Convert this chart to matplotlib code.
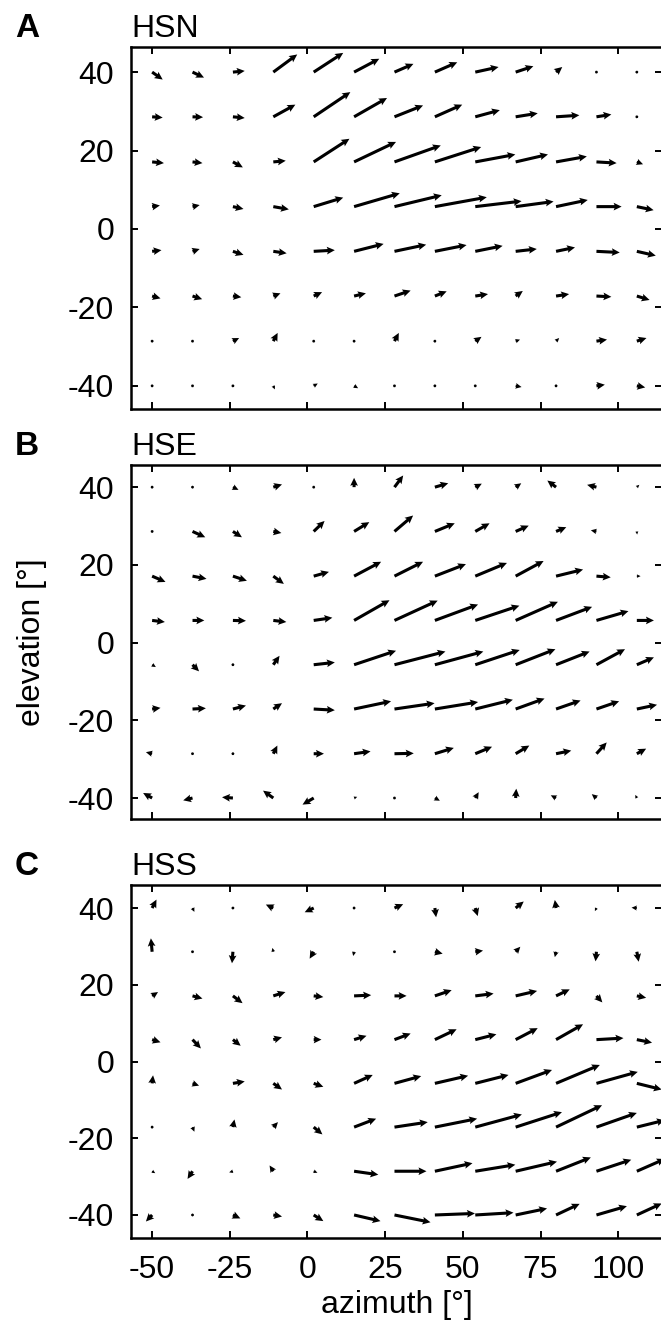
import numpy as np
import matplotlib
matplotlib.use("Agg")
import matplotlib.pyplot as plt

plt.rcParams['font.family'] = ['Liberation Sans', 'DejaVu Sans']
plt.rcParams['axes.unicode_minus'] = False

# grid of the receptive field maps (deg)
azimuth = [-50, -37, -24, -11, 2, 15, 28, 41, 54, 67, 80, 93, 106]
elevation = [40, 28.6, 17.1, 5.7, -5.7, -17.1, -28.6, -40]

# local motion vectors, rows = elevation (top to bottom), cols = azimuth
hsn_u = [
    [3.4, 3.7, 3.8, 7.7, 9.5, 8.1, 6.1, 7.2, 7.5, 5.7, 2.0, 0.3, 0.3],
    [3.4, 3.4, 3.8, 7.1, 11.8, 10.6, 9.2, 8.8, 7.9, 7.1, 7.5, 4.8, 0.3],
    [3.8, 3.2, 3.2, 4.0, 11.5, 13.5, 14.9, 14.9, 12.9, 10.4, 9.9, 6.5, 2.0],
    [2.5, 2.3, 3.4, 5.0, 9.5, 14.7, 15.2, 16.7, 14.9, 12.2, 10.2, 8.1, 5.4],
    [3.0, 2.3, 3.4, 4.3, 6.8, 9.5, 10.2, 10.2, 8.8, 6.8, 6.1, 7.5, 6.1],
    [2.7, 3.1, 2.7, 2.3, 2.7, 3.8, 5.2, 3.8, 4.1, 2.3, 4.2, 4.8, 4.1],
    [0.5, 0.2, 2.0, 1.4, 0.4, 0.2, 1.4, 0.3, 2.0, 1.4, 1.0, 3.4, 3.1],
    [0.3, 0.3, 0.3, 0.5, 1.3, 1.3, 0.3, 0.3, 0.3, 1.9, 0.3, 2.7, 2.7],
]
hsn_v = [
    [-1.9, -1.4, 0.3, 4.5, 4.9, 3.4, 2.1, 2.5, 1.3, 1.5, 1.3, 0.3, -0.2],
    [-0.2, -0.1, -0.3, 3.1, 6.3, 4.8, 2.9, 3.1, 1.7, 0.9, 0.4, 0.6, -0.2],
    [-0.3, -0.3, -1.4, 0.3, 5.9, 5.1, 4.2, 3.8, 1.9, 1.9, 1.4, -0.3, -0.6],
    [0.3, 0.4, -0.6, -0.7, 2.3, 3.4, 2.9, 2.4, 1.4, 1.3, 1.7, 0.0, -0.9],
    [0.3, 0.6, -0.9, -0.5, 0.3, 1.9, 1.7, 1.6, 1.4, 0.6, 1.0, -0.3, -1.1],
    [-0.6, -0.8, -0.3, 0.7, 1.0, 0.7, 1.4, 1.2, 0.5, 1.3, 0.5, -0.2, -1.0],
    [0.3, -0.2, 0.8, 2.1, -0.6, -0.4, 2.1, -0.3, 1.1, 0.4, 0.8, 0.4, 0.8],
    [0.0, 0.0, -0.2, -0.9, 0.6, -0.6, 0.0, 0.0, 0.0, -0.3, 0.0, 0.3, -0.4],
]

hse_u = [
    [0.3, 0.3, 1.8, 2.8, 0.8, 0.0, 2.8, 4.3, 2.1, 1.8, -2.8, -3.0, 0.8],
    [0.3, 4.1, 2.9, 2.6, 3.5, 4.9, 6.0, 6.4, 4.6, 4.2, 3.3, -1.8, 0.1],
    [4.3, 4.5, 4.5, 3.4, 4.9, 8.7, 9.2, 10.0, 10.2, 9.0, 8.7, 4.6, 1.2],
    [4.1, 3.8, 4.2, 4.2, 6.0, 11.4, 13.9, 13.9, 14.2, 13.6, 11.6, 10.3, 5.5],
    [1.2, 2.1, 0.5, 2.0, 6.8, 13.5, 16.4, 15.6, 14.3, 12.8, 10.8, 9.2, 5.5],
    [2.7, 4.3, 4.2, 2.8, 6.8, 11.9, 12.9, 13.9, 12.1, 9.3, 7.9, 7.3, 6.5],
    [-2.0, 0.2, 0.3, 1.3, 3.3, 5.3, 6.2, 6.1, 5.4, 4.4, 4.9, 3.3, 3.0],
    [-2.9, -3.0, -3.5, -3.3, -3.6, 1.0, 0.3, 1.6, 1.1, 0.2, -1.7, -1.5, -0.5],
]
hse_v = [
    [0.0, 0.1, -0.7, 0.7, 0.0, 2.4, 3.0, 1.0, 0.9, 1.0, 1.7, 0.6, 0.6],
    [0.2, -1.5, -1.5, -0.4, 2.7, 2.4, 4.1, 2.1, 2.1, 1.5, 1.1, 0.3, -0.8],
    [-1.5, -0.7, -1.2, -2.0, 1.1, 3.7, 3.7, 3.1, 3.4, 3.9, 1.7, -0.3, 0.0],
    [-0.4, 0.0, -0.1, -0.4, 0.7, 5.2, 5.1, 4.1, 3.8, 4.8, 3.5, 2.4, 0.0],
    [-0.6, -1.7, 0.0, 2.3, 0.6, 3.6, 3.4, 3.4, 3.8, 4.0, 3.4, 4.0, 1.9],
    [0.3, 0.2, 0.9, 1.5, -0.3, 2.0, 1.5, 1.8, 2.4, 2.7, 2.2, 2.0, 1.1],
    [0.4, 0.3, 0.0, 2.1, 0.0, 0.6, 0.1, 1.5, 1.8, 2.1, 0.8, 2.9, 1.3],
    [1.3, -0.6, 0.2, 1.9, -1.7, 0.3, 0.3, -0.7, 1.5, 2.4, 0.7, 1.0, 0.8],
]

hss_u = [
    [1.4, 0.6, 0.3, -2.4, -2.9, 0.2, 2.8, 0.4, 0.8, 2.6, -0.4, -0.5, -1.7],
    [-0.4, 0.8, -0.3, -0.3, -1.3, -0.3, 0.3, 2.5, 2.5, 1.5, -0.4, -0.3, 0.6],
    [1.9, 3.2, 3.1, 3.9, 3.1, 5.5, 3.9, 5.4, 5.9, 6.9, 4.4, 1.9, 3.0],
    [2.7, 2.7, 2.5, 2.8, 2.5, 4.0, 5.2, 7.0, 6.8, 7.1, 8.7, 8.7, 4.9],
    [0.3, 2.1, 3.8, 2.8, 3.1, 6.0, 8.6, 10.7, 10.7, 11.7, 14.1, 13.3, 8.0],
    [0.3, 0.6, 0.5, 1.5, 2.8, 7.1, 10.7, 13.6, 15.0, 14.9, 14.8, 13.0, 9.0],
    [1.0, -1.6, -1.2, -1.2, 1.2, 7.8, 10.3, 12.1, 12.9, 13.3, 11.2, 11.2, 9.0],
    [-2.0, 0.5, 2.4, 2.8, 3.1, 8.5, 11.6, 12.9, 12.3, 10.1, 7.6, 9.8, 8.0],
]
hss_v = [
    [2.2, -1.0, -0.2, 0.9, -1.1, 0.0, 1.0, -2.4, -2.1, 1.7, 2.1, -0.8, 0.1],
    [3.5, 0.0, -3.0, 1.0, -1.8, -1.1, 0.0, -0.5, 0.3, 1.3, -1.4, -2.5, -2.6],
    [1.0, -0.7, -1.9, 1.0, -0.3, 0.2, 0.0, 1.5, 0.6, 1.3, 1.7, -1.7, -0.5],
    [-0.7, -2.3, -1.6, 0.6, 0.0, 1.0, 1.6, 2.7, 1.4, 3.0, 4.0, 0.4, -0.8],
    [2.1, -0.6, 0.5, -1.6, -0.9, 2.2, 1.9, 2.0, 2.2, 3.5, 4.8, 3.0, -1.6],
    [0.0, -1.2, 2.0, 1.3, -1.9, 2.2, 1.3, 2.2, 3.3, 3.9, 5.7, 3.7, 1.8],
    [-0.5, -2.0, -0.3, 1.5, -0.4, -0.9, 0.0, 2.1, 1.7, 2.5, 3.6, 3.0, 3.2],
    [-1.7, 0.3, -0.9, -0.4, -1.6, -1.6, -1.9, 0.4, 0.6, 1.7, 2.9, 2.3, 3.0],
]

letters = ["A", "B", "C"]
names = ["HSN", "HSE", "HSS"]
us = [hsn_u, hse_u, hss_u]
vs = [hsn_v, hse_v, hss_v]

xticks = [-50, -25, 0, 25, 50, 75, 100]
yticks = [-40, -20, 0, 20, 40]

W, H = 661, 1331
fig = plt.figure(figsize=(W / 100, H / 100), dpi=100)

# panel boxes in pixels: (left, top, bottom), right edge runs off the figure
boxes = [(131, 47, 409), (131, 465, 819), (131, 885, 1238)]
ylims = [(-45.9, 46.4), (-45.4, 45.7), (-46.0, 46.0)]
right = 662

X, Y = np.meshgrid(azimuth, elevation)

for i in range(3):
    left, top, bottom = boxes[i]
    ax = fig.add_axes([left / W, 1 - bottom / H, (right - left) / W, (bottom - top) / H])
    ax.quiver(X, Y, np.array(us[i]), np.array(vs[i]), angles='xy', scale_units='xy',
              scale=1, color='black', width=0.0058, headwidth=2.5, headlength=2.6,
              headaxislength=2.3, pivot='tail')
    ax.set_xlim(-56.8, 114.1)
    ax.set_ylim(*ylims[i])
    ax.set_xticks(xticks)
    ax.set_yticks(yticks)
    ax.tick_params(direction='in', top=True, right=True, length=5, width=1.4,
                   labelsize=23)
    ax.tick_params(axis='y', pad=12)
    ax.tick_params(axis='x', pad=12)
    for sp in ax.spines.values():
        sp.set_linewidth(1.8)
    if i < 2:
        ax.set_xticklabels([])
    else:
        ax.set_xlabel('azimuth [°]', fontsize=23, labelpad=4)
    if i == 1:
        ax.set_ylabel('elevation [°]', fontsize=23)
        ax.yaxis.set_label_coords(-0.158, 0.5)
    ax.set_title(names[i], loc='left', fontsize=23, pad=7)
    ax.annotate(letters[i], xy=(0, 1), xycoords='axes fraction', xytext=(-83.5, 7),
                textcoords='offset points', fontsize=24, fontweight='bold',
                ha='left', va='baseline')

fig.savefig('out.png', dpi=100)
